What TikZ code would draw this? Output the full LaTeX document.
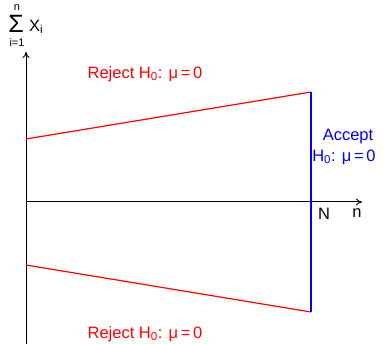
\documentclass[tikz,border=0pt]{standalone}
\usepackage{fontspec}
\setmainfont{Liberation Sans}
\usetikzlibrary{arrows.meta}
\begin{document}
\begin{tikzpicture}[x=1pt,y=-1pt,
  lbl/.style={inner sep=0pt,font=\fontsize{16.5}{19}\selectfont},
  axis/.style={line width=1pt,-{To[length=6pt,width=7pt]}},
  redline/.style={red,line width=1.2pt},
  blueline/.style={blue,line width=1.2pt}]
\useasboundingbox (0,0) rectangle (385,344);
% axes
\coordinate (O) at (26,202);
\coordinate (ybot) at (26,344);
\coordinate (ytop) at (26,52);
\coordinate (xend) at (362,202);
\draw[axis] (ybot) -- (ytop);
\draw[axis] (O) -- (xend);
% boundaries
\coordinate (u0) at (26,139);
\coordinate (u1) at (311,92);
\coordinate (l0) at (26,265);
\coordinate (l1) at (311,312);
\draw[redline] (u0) -- (u1);
\draw[redline] (l0) -- (l1);
\draw[blueline] (u1) -- (l1);
% labels
\node[lbl,red] (rtop) at (145,74) {Reject H\textsubscript{0}: μ\,=\,0};
\node[lbl,red] (rbot) at (145,334) {Reject H\textsubscript{0}: μ\,=\,0};
\node[lbl,blue] (acc1) at (348,137) {Accept};
\node[lbl,blue] (acc2) at (344,157) {H\textsubscript{0}: μ\,=\,0};
\node[lbl] (N) at (324,214) {N};
\node[lbl] (n) at (357,213) {n};
% sum label
\node[inner sep=0pt,font=\fontsize{25}{25}\selectfont] (sig) at (16,24) {Σ};
\node[inner sep=0pt,font=\fontsize{11}{11}\selectfont] (sup) at (17,8) {n};
\node[inner sep=0pt,font=\fontsize{11}{11}\selectfont] (sub) at (17,43) {i=1};
\node[lbl,anchor=west] (X) at (29,27) {X\textsubscript{i}};
\end{tikzpicture}
\end{document}
